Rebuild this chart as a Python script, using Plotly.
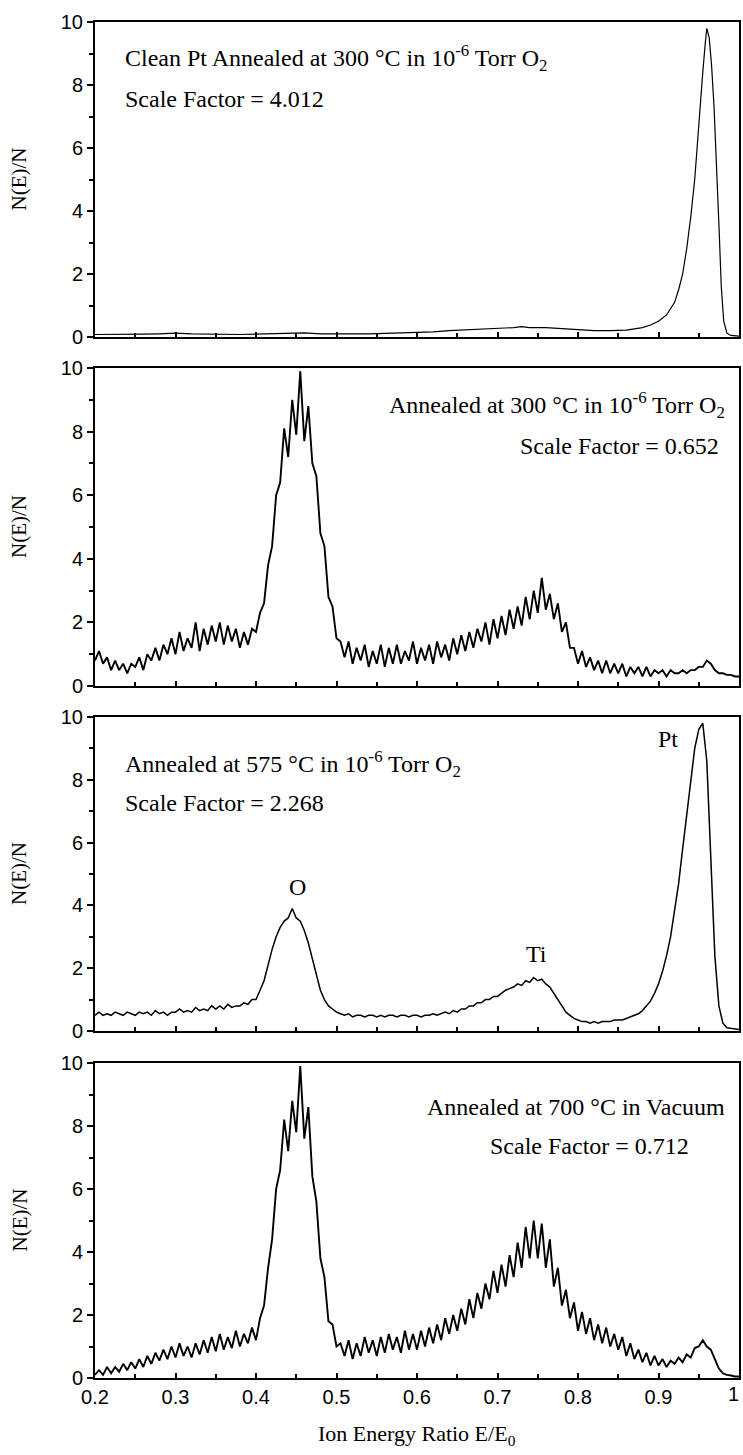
import plotly.graph_objects as go

# ---------------- data ----------------
x_grid = [round(0.2 + 0.005 * i, 3) for i in range(161)]

# Panel 1: Clean Pt, scale factor 4.012 (non-uniform sampling)
p1_x = [0.20, 0.22, 0.24, 0.26, 0.28, 0.30, 0.32, 0.34, 0.36, 0.38, 0.40, 0.42, 0.44,
        0.46, 0.48, 0.50, 0.52, 0.54, 0.56, 0.58, 0.60, 0.62, 0.64, 0.66, 0.68, 0.70,
        0.72, 0.73, 0.74, 0.76, 0.78, 0.80, 0.82, 0.84, 0.86, 0.87, 0.88, 0.89, 0.90,
        0.91, 0.92, 0.925, 0.93, 0.935, 0.94, 0.945, 0.95, 0.955, 0.958, 0.96, 0.963,
        0.966, 0.969, 0.972, 0.975, 0.978, 0.981, 0.985, 0.99, 1.0]
p1_y = [0.08, 0.08, 0.07, 0.09, 0.1, 0.12, 0.1, 0.09, 0.08, 0.08, 0.09, 0.1, 0.12,
        0.13, 0.1, 0.09, 0.1, 0.1, 0.11, 0.12, 0.14, 0.16, 0.2, 0.22, 0.25, 0.28,
        0.3, 0.33, 0.3, 0.3, 0.26, 0.22, 0.2, 0.2, 0.22, 0.26, 0.3, 0.38, 0.5,
        0.7, 1.1, 1.5, 2.0, 2.8, 3.8, 5.0, 6.8, 8.4, 9.3, 9.8, 9.5,
        8.6, 7.3, 5.6, 3.6, 1.6, 0.5, 0.12, 0.05, 0.03]

# Panel 2: Annealed at 300 C in O2, scale factor 0.652
p2_y = [0.8, 1.1, 0.7, 0.9, 0.5, 0.8, 0.5, 0.7, 0.4, 0.7,
        0.6, 0.9, 0.5, 1.0, 0.8, 1.2, 0.8, 1.3, 1.0, 1.5,
        1.0, 1.7, 1.1, 1.5, 1.2, 2.0, 1.1, 1.8, 1.3, 1.9,
        1.4, 2.0, 1.3, 1.9, 1.4, 1.8, 1.2, 1.7, 1.3, 1.8,
        1.7, 2.3, 2.6, 3.8, 4.4, 6.0, 6.4, 8.1, 7.2, 9.0,
        7.9, 9.9, 7.7, 8.8, 7.0, 6.6, 4.8, 4.4, 2.8, 2.5,
        1.5, 1.4, 0.9, 1.4, 0.7, 1.2, 0.8, 1.3, 0.6, 1.1,
        0.7, 1.3, 0.6, 1.2, 0.7, 1.3, 0.7, 1.1, 0.8, 1.4,
        0.7, 1.2, 0.8, 1.3, 0.7, 1.4, 0.9, 1.3, 0.8, 1.5,
        1.0, 1.6, 1.1, 1.7, 1.2, 1.8, 1.4, 2.0, 1.3, 2.1,
        1.5, 2.2, 1.6, 2.4, 1.8, 2.5, 1.9, 2.8, 2.1, 3.0,
        2.3, 3.4, 2.4, 2.9, 2.1, 2.6, 1.7, 2.0, 1.2, 1.2,
        0.7, 1.1, 0.6, 0.9, 0.5, 0.8, 0.4, 0.8, 0.4, 0.7,
        0.4, 0.7, 0.3, 0.6, 0.4, 0.6, 0.3, 0.6, 0.3, 0.5,
        0.4, 0.5, 0.3, 0.5, 0.4, 0.4, 0.5, 0.4, 0.5, 0.5,
        0.6, 0.6, 0.8, 0.7, 0.5, 0.4, 0.4, 0.35, 0.35, 0.3,
        0.3]

# Panel 3: Annealed at 575 C in O2, scale factor 2.268
p3_y = [0.5, 0.6, 0.5, 0.55, 0.5, 0.6, 0.55, 0.5, 0.6, 0.55,
        0.5, 0.6, 0.55, 0.6, 0.5, 0.65, 0.55, 0.6, 0.5, 0.6,
        0.6, 0.7, 0.6, 0.65, 0.6, 0.75, 0.65, 0.7, 0.65, 0.8,
        0.7, 0.8, 0.7, 0.85, 0.75, 0.8, 0.8, 0.9, 0.85, 1.0,
        1.0, 1.3, 1.6, 2.1, 2.6, 3.0, 3.3, 3.5, 3.6, 3.9,
        3.6, 3.5, 3.2, 2.8, 2.3, 1.8, 1.3, 1.0, 0.8, 0.7,
        0.6, 0.55, 0.5, 0.55, 0.45, 0.5, 0.5, 0.45, 0.5, 0.5,
        0.45, 0.5, 0.45, 0.5, 0.5, 0.45, 0.5, 0.5, 0.45, 0.5,
        0.5, 0.45, 0.5, 0.5, 0.55, 0.5, 0.55, 0.6, 0.55, 0.65,
        0.6, 0.7, 0.7, 0.8, 0.8, 0.9, 0.9, 1.0, 1.0, 1.1,
        1.1, 1.2, 1.3, 1.35, 1.4, 1.5, 1.45, 1.6, 1.55, 1.7,
        1.6, 1.65, 1.5, 1.4, 1.2, 1.0, 0.8, 0.6, 0.5, 0.4,
        0.35, 0.3, 0.3, 0.25, 0.3, 0.25, 0.3, 0.3, 0.3, 0.35,
        0.35, 0.35, 0.4, 0.45, 0.5, 0.55, 0.65, 0.8, 0.95, 1.2,
        1.5, 1.9, 2.4, 3.0, 3.8, 4.7, 5.8, 6.9, 8.0, 9.0,
        9.6, 9.8, 8.6, 5.5, 2.4, 0.8, 0.25, 0.1, 0.08, 0.05,
        0.05]

# Panel 4: Annealed at 700 C in vacuum, scale factor 0.712
p4_y = [0.1, 0.25, 0.1, 0.35, 0.15, 0.35, 0.2, 0.45, 0.25, 0.5,
        0.3, 0.6, 0.35, 0.7, 0.45, 0.8, 0.55, 0.9, 0.6, 1.0,
        0.65, 1.1, 0.7, 1.0, 0.65, 1.1, 0.75, 1.2, 0.8, 1.3,
        0.85, 1.4, 0.9, 1.3, 0.95, 1.5, 1.0, 1.4, 1.1, 1.6,
        1.2, 1.9, 2.3, 3.5, 4.4, 6.0, 6.6, 8.2, 7.2, 8.8,
        7.8, 9.9, 7.6, 8.6, 6.4, 5.6, 3.8, 3.2, 1.8, 1.7,
        1.0, 1.1, 0.7, 1.2, 0.6, 1.1, 0.7, 1.3, 0.8, 1.2,
        0.7, 1.3, 0.8, 1.4, 0.9, 1.3, 0.8, 1.5, 0.9, 1.4,
        0.9, 1.5, 1.0, 1.6, 1.1, 1.7, 1.2, 1.9, 1.4, 2.0,
        1.5, 2.2, 1.7, 2.5, 1.9, 2.7, 2.2, 3.0, 2.5, 3.4,
        2.7, 3.6, 2.9, 3.9, 3.2, 4.3, 3.5, 4.8, 3.8, 5.0,
        3.8, 4.9, 3.5, 4.4, 2.9, 3.5, 2.3, 2.8, 1.9, 2.4,
        1.5, 2.1, 1.4, 1.9, 1.2, 1.7, 1.1, 1.6, 1.0, 1.4,
        0.9, 1.3, 0.7, 1.1, 0.6, 0.9, 0.5, 0.8, 0.4, 0.7,
        0.4, 0.6, 0.35, 0.55, 0.45, 0.65, 0.5, 0.75, 0.65, 0.95,
        1.0, 1.2, 1.0, 0.9, 0.6, 0.3, 0.15, 0.1, 0.08, 0.05,
        0.05]

x_tickvals = [0.2, 0.3, 0.4, 0.5, 0.6, 0.7, 0.8, 0.9, 1.0]
x_ticktext = ["0.2", "0.3", "0.4", "0.5", "0.6", "0.7", "0.8", "0.9", "1"]
y_tickvals = [0, 2, 4, 6, 8, 10]

panel_titles = [
    "Clean Pt Annealed at 300 °C in 10<sup>-6</sup> Torr O<sub>2</sub>",
    "Annealed at 300 °C in 10<sup>-6</sup> Torr O<sub>2</sub>",
    "Annealed at 575 °C in 10<sup>-6</sup> Torr O<sub>2</sub>",
    "Annealed at 700 °C in Vacuum",
]
scale_labels = ["Scale Factor = 4.012", "Scale Factor = 0.652",
                "Scale Factor = 2.268", "Scale Factor = 0.712"]
peak_labels = ["O", "Ti", "Pt"]
peak_pos = [(0.452, 4.6), (0.748, 2.45), (0.912, 9.3)]

# ---------------- layout ----------------
W, H = 743, 1455
ML, MR, MT, MB = 95, 2, 22, 77
PH = H - MT - MB
bottom_px = H - MB
panels_px = [(22, 337), (368, 686), (717, 1031), (1063, 1378)]
domains = [[(bottom_px - b) / PH, (bottom_px - t) / PH] for t, b in panels_px]

serif = "Liberation Serif"
sans = "Liberation Sans"

fig = go.Figure()
series = [(p1_x, p1_y), (x_grid, p2_y), (x_grid, p3_y), (x_grid, p4_y)]
widths = [1.2, 1.9, 1.5, 1.9]
for i, (xs, ys) in enumerate(series):
    n = "" if i == 0 else str(i + 1)
    fig.add_trace(go.Scatter(x=xs, y=ys, mode="lines", xaxis="x" + n, yaxis="y" + n,
                             line=dict(color="black", width=widths[i]), showlegend=False,
                             hoverinfo="skip"))

# the last label ("1") sits on the right edge, so it is drawn as an annotation
shown_text = x_ticktext[:-1] + [""]

layout = dict(width=W, height=H, margin=dict(l=ML, r=MR, t=MT, b=MB),
              paper_bgcolor="white", plot_bgcolor="white", showlegend=False)
for i in range(4):
    n = "" if i == 0 else str(i + 1)
    layout["xaxis" + n] = dict(
        domain=[0, 1], range=[0.2, 1.0], anchor="y" + n,
        showline=True, linecolor="black", linewidth=2, mirror=True,
        ticks="inside", ticklen=5, tickwidth=1.5, tickcolor="black",
        tickvals=x_tickvals, ticktext=shown_text,
        showticklabels=(i == 3), tickfont=dict(family=sans, size=20, color="black"),
        minor=dict(tickvals=[0.25, 0.35, 0.45, 0.55, 0.65, 0.75, 0.85, 0.95],
                   ticks="inside", ticklen=4, tickcolor="black"),
        showgrid=False, zeroline=False)
    layout["yaxis" + n] = dict(
        domain=domains[i], range=[0, 10], anchor="x" + n,
        showline=True, linecolor="black", linewidth=2, mirror=True,
        ticks="outside", ticklen=6, tickwidth=1.5, tickcolor="black",
        tickvals=y_tickvals, tickfont=dict(family=sans, size=20, color="black"),
        minor=dict(tickvals=[1, 3, 5, 7, 9], ticks="outside", ticklen=4, tickcolor="black"),
        showgrid=False, zeroline=False)
fig.update_layout(**layout)

ann = []
text_font = dict(family=serif, size=24, color="black")
axis_font = dict(family=serif, size=21, color="black")
title_pos = [(0.235, 8.85, "left"), (0.985, 8.85, "right"), (0.235, 8.5, "left"), (0.985, 8.6, "right")]
scale_pos = [(0.235, 7.55, "left"), (0.978, 7.55, "right"), (0.235, 7.25, "left"), (0.94, 7.35, "right")]
for i in range(4):
    n = "" if i == 0 else str(i + 1)
    tx, ty, ta = title_pos[i]
    ann.append(dict(x=tx, y=ty, xref="x" + n, yref="y" + n, text=panel_titles[i],
                    showarrow=False, xanchor=ta, yanchor="middle", font=text_font))
    sx, sy, sa = scale_pos[i]
    ann.append(dict(x=sx, y=sy, xref="x" + n, yref="y" + n, text=scale_labels[i],
                    showarrow=False, xanchor=sa, yanchor="middle", font=text_font))
    ymid = (domains[i][0] + domains[i][1]) / 2
    ann.append(dict(x=-0.118, y=ymid, xref="paper", yref="paper", text="N(E)/N",
                    textangle=-90, showarrow=False, xanchor="center", yanchor="middle",
                    font=axis_font))
for lab, (px, py) in zip(peak_labels, peak_pos):
    ann.append(dict(x=px, y=py, xref="x3", yref="y3", text=lab, showarrow=False,
                    xanchor="center", yanchor="middle", font=text_font))
ann.append(dict(x=x_tickvals[-1], y=-(1394 - bottom_px) / PH, xref="x4", yref="paper",
                text=x_ticktext[-1], showarrow=False, xanchor="right", yanchor="middle",
                xshift=2, font=dict(family=sans, size=20, color="black")))
ann.append(dict(x=0.5, y=-(1435 - bottom_px) / PH, xref="paper", yref="paper",
                text="Ion Energy Ratio E/E<sub>0</sub>", showarrow=False,
                xanchor="center", yanchor="middle", font=dict(family=serif, size=22, color="black")))
fig.update_layout(annotations=ann)

fig.write_html("out.html")
